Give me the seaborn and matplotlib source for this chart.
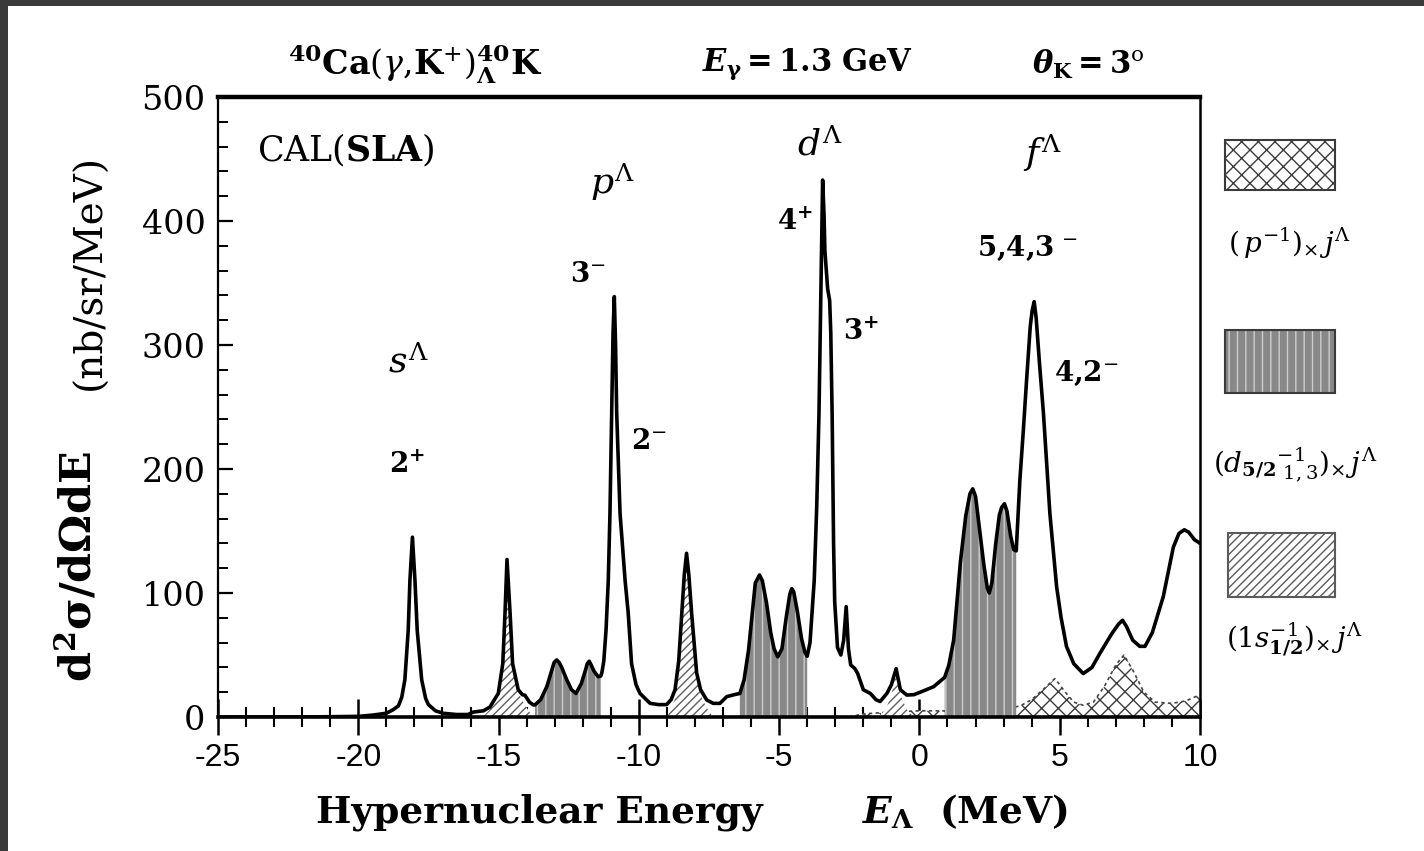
import numpy as np
import pandas as pd
import matplotlib
matplotlib.use("Agg")
import matplotlib.pyplot as plt
import seaborn as sns
from matplotlib.patches import Rectangle
from matplotlib.ticker import MultipleLocator

# ---------------- data ----------------
# total cross section  d2sigma/dOmega dE  (nb/sr/MeV)  vs  E_Lambda (MeV)
energy = [-25.0, -22.0, -20.0, -19.5, -19.0, -18.75, -18.57, -18.45, -18.34, -18.22,
          -18.16, -18.07, -17.98, -17.90, -17.74, -17.60, -17.50, -17.25, -16.97, -16.50,
          -16.09, -15.90, -15.54, -15.31, -15.01, -14.85, -14.77, -14.70, -14.59, -14.50,
          -14.30, -14.15, -14.06, -13.90, -13.76, -13.70, -13.50, -13.28, -13.10, -13.02,
          -12.93, -12.84, -12.75, -12.57, -12.40, -12.24, -12.05, -11.90, -11.84, -11.77,
          -11.70, -11.60, -11.45, -11.36, -11.32, -11.25, -11.17, -11.09, -11.03, -10.97,
          -10.92, -10.875, -10.83, -10.79, -10.67, -10.49, -10.38, -10.26, -10.10, -9.96,
          -9.60, -9.30, -9.01, -8.85, -8.71, -8.58, -8.47, -8.38, -8.30, -8.22,
          -8.12, -7.94, -7.80, -7.58, -7.35, -7.11, -6.87, -6.60, -6.40, -6.25,
          -6.09, -5.95, -5.85, -5.70, -5.60, -5.45, -5.30, -5.18, -5.05, -4.90,
          -4.75, -4.62, -4.55, -4.48, -4.35, -4.20, -4.08, -4.00, -3.90, -3.75,
          -3.66, -3.58, -3.50, -3.45, -3.40, -3.37, -3.27, -3.20, -3.16, -3.11,
          -3.06, -3.02, -2.92, -2.80, -2.70, -2.61, -2.53, -2.45, -2.30, -2.20,
          -2.00, -1.75, -1.55, -1.40, -1.16, -1.00, -0.83, -0.68, -0.45, -0.20,
          0.03, 0.51, 0.90, 1.05, 1.22, 1.46, 1.65, 1.80, 1.90, 2.00,
          2.15, 2.30, 2.42, 2.49, 2.58, 2.72, 2.85, 2.93, 3.03, 3.12,
          3.25, 3.36, 3.45, 3.58, 3.70, 3.82, 3.95, 4.02, 4.09, 4.16,
          4.28, 4.42, 4.65, 4.89, 5.05, 5.24, 5.50, 5.84, 6.15, 6.44,
          6.85, 7.10, 7.24, 7.38, 7.60, 7.85, 8.04, 8.30, 8.69, 9.05,
          9.25, 9.44, 9.60, 9.80, 9.94, 10.0]
sigma = [0.0, 0.0, 0.5, 1.5, 3.0, 6.0, 9.0, 16.0, 30.0, 70.0,
         110.0, 145.0, 110.0, 70.0, 30.0, 15.0, 10.0, 5.0, 3.0, 2.0,
         2.0, 4.0, 5.0, 8.0, 19.0, 43.0, 84.0, 127.0, 84.0, 43.0,
         22.0, 18.0, 17.5, 12.0, 9.7, 9.8, 14.0, 24.5, 38.0, 44.0,
         46.0, 44.0, 40.0, 30.0, 22.0, 19.0, 27.0, 38.0, 43.0, 45.0,
         42.0, 37.0, 32.5, 33.0, 35.5, 45.0, 70.0, 110.0, 164.0, 245.0,
         310.0, 339.0, 300.0, 245.0, 164.0, 110.0, 84.0, 43.0, 26.0, 19.0,
         11.0, 10.0, 10.0, 14.0, 22.0, 45.0, 84.0, 115.0, 132.0, 115.0,
         84.0, 35.5, 22.0, 13.7, 11.0, 11.0, 16.4, 18.0, 19.0, 30.0,
         54.0, 85.0, 108.0, 114.5, 110.0, 92.0, 68.0, 55.0, 48.5, 55.0,
         80.0, 99.0, 103.5, 101.0, 85.0, 63.0, 52.0, 49.0, 60.0, 110.0,
         170.0, 245.0, 360.0, 433.0, 405.0, 376.0, 345.0, 336.0, 310.0, 242.0,
         140.0, 93.0, 56.0, 50.0, 62.0, 89.0, 55.0, 42.0, 39.0, 35.0,
         22.0, 19.0, 14.0, 12.5, 19.0, 26.0, 39.0, 22.0, 17.7, 18.0,
         20.0, 24.5, 32.0, 42.0, 62.0, 125.0, 162.0, 180.0, 184.0, 178.0,
         150.0, 122.0, 104.0, 100.0, 108.0, 140.0, 163.0, 169.0, 172.0, 166.0,
         146.0, 135.0, 134.0, 191.0, 230.0, 272.0, 315.0, 328.0, 335.0, 322.0,
         285.0, 245.0, 164.0, 105.0, 80.0, 57.0, 43.0, 35.0, 40.0, 51.6,
         67.0, 75.0, 78.0, 73.0, 62.0, 57.0, 57.0, 68.0, 97.0, 137.0,
         148.0, 151.0, 149.0, 143.0, 141.0, 140.0]

# (p^-1) x j^Lambda component (cross hatched)
p_hole_energy = [-2.5, -2.0, -1.0, 0.0, 1.0, 2.0, 3.0, 3.6, 4.0, 4.4, 4.83, 5.2, 5.5,
                 5.84, 6.2, 6.6, 7.0, 7.29, 7.6, 8.0, 8.4, 9.0, 9.5, 10.0]
p_hole_sigma = [0.0, 2.5, 4.0, 5.0, 5.0, 5.5, 6.0, 9.0, 14.0, 22.0, 31.0, 20.0, 12.0,
                9.5, 12.0, 25.0, 42.0, 50.0, 38.0, 20.0, 12.0, 11.0, 13.0, 18.0]

# (1s1/2^-1) x j^Lambda component (diagonal hatch), three pieces
s_hole_energy_a = [-15.55, -15.31, -15.01, -14.85, -14.77, -14.70, -14.59, -14.50, -14.30, -14.10, -13.90, -13.75]
s_hole_sigma_a = [0.0, 6.0, 17.0, 42.0, 83.0, 126.0, 83.0, 42.0, 20.0, 11.0, 4.0, 0.0]
s_hole_energy_b = [-9.0, -8.85, -8.71, -8.58, -8.47, -8.38, -8.30, -8.22, -8.12, -7.94, -7.80, -7.60, -7.35]
s_hole_sigma_b = [0.0, 6.0, 15.0, 42.0, 83.0, 114.0, 131.0, 114.0, 83.0, 34.0, 18.0, 8.0, 0.0]
s_hole_energy_c = [-1.45, -1.20, -1.00, -0.83, -0.68, -0.45, -0.20]
s_hole_sigma_c = [0.0, 6.0, 18.0, 36.0, 18.0, 6.0, 0.0]

# (d5/2^-1) x j^Lambda regions (grey, vertical lines) - energy ranges under the total curve
d_hole_start = [-13.70, -6.40, 0.90]
d_hole_end = [-11.36, -4.00, 3.45]

x_ticks = [-25, -20, -15, -10, -5, 0, 5, 10]
y_ticks = [0, 100, 200, 300, 400, 500]

# ---------------- style ----------------
sns.set_theme(style="white")
plt.rcParams["font.family"] = ["DejaVu Serif"]
plt.rcParams["mathtext.fontset"] = "dejavuserif"
plt.rcParams["axes.unicode_minus"] = False
plt.rcParams["hatch.linewidth"] = 1.0
plt.rcParams["text.color"] = "black"
plt.rcParams["xtick.color"] = "black"
plt.rcParams["ytick.color"] = "black"

W, H = 1424, 851
fig = plt.figure(figsize=(W / 100, H / 100), dpi=100, facecolor="#3a3a3a")
fig.patches.append(Rectangle((8 / W, 0), 1, 1 - 6 / H, transform=fig.transFigure,
                             facecolor="white", edgecolor="none", zorder=-10))

ax = fig.add_axes([218 / W, 1 - 717 / H, (1200 - 218) / W, (717 - 97) / H])
ax.set_facecolor("white")

E = np.array(energy)
S = np.array(sigma)

# p-hole component
ax.fill_between(p_hole_energy, 0, p_hole_sigma, facecolor="white", edgecolor="#3a3a3a",
                hatch="xx", linewidth=0, zorder=2)
ax.plot(p_hole_energy, p_hole_sigma, linestyle=(0, (2, 2)), color="#444444", lw=1.2, zorder=2)

# d-hole grey regions
for a, b in zip(d_hole_start, d_hole_end):
    m = (E >= a) & (E <= b)
    ax.fill_between(E[m], 0, S[m], facecolor="#888888", edgecolor="#cdcdcd",
                    hatch="||", linewidth=0, zorder=3)

# s-hole hatched regions
for es, ss in ((s_hole_energy_a, s_hole_sigma_a), (s_hole_energy_b, s_hole_sigma_b),
               (s_hole_energy_c, s_hole_sigma_c)):
    ax.fill_between(es, 0, ss, facecolor="white", edgecolor="#5e5e5e",
                    hatch="////", linewidth=0, zorder=3)

df = pd.DataFrame({"E": energy, "sigma": sigma})
sns.lineplot(data=df, x="E", y="sigma", sort=False, estimator=None, color="black",
             linewidth=2.6, ax=ax, zorder=5)

ax.set_xlim(-25, 10)
ax.set_ylim(0, 500)
ax.set_xlabel("")
ax.set_ylabel("")
ax.set_xticks(x_ticks)
ax.set_yticks(y_ticks)
ax.xaxis.set_minor_locator(MultipleLocator(1))
ax.yaxis.set_minor_locator(MultipleLocator(20))
ax.tick_params(axis="x", which="major", direction="inout", length=26, width=1.8,
               pad=6, labelsize=23, colors="black", bottom=True, top=False)
ax.tick_params(axis="x", which="minor", direction="inout", length=15, width=1.5,
               bottom=True, top=False)
ax.tick_params(axis="y", which="major", direction="in", length=11, width=1.6,
               pad=9, labelsize=24, left=True, right=False)
ax.tick_params(axis="y", which="minor", direction="in", length=7, width=1.4,
               left=True, right=False)
for lbl in ax.get_xticklabels():
    lbl.set_fontfamily(["Liberation Sans", "DejaVu Sans"])
for side, lw in (("bottom", 2.6), ("top", 3.2), ("left", 1.6), ("right", 1.8)):
    ax.spines[side].set_visible(True)
    ax.spines[side].set_color("black")
    ax.spines[side].set_linewidth(lw)
    ax.spines[side].set_zorder(6)

# ---------------- annotations inside the plot ----------------
ax.text(-23.6, 457, r"CAL$\mathrm{(}\mathbf{SLA}\mathrm{)}$", fontsize=25, ha="left", va="center")
shell_labels = [(-18.2, 286, r"$s^{\Lambda}$"), (-10.95, 431, r"$p^{\Lambda}$"),
                (-3.55, 461, r"$d^{\Lambda}$"), (4.37, 455, r"$f^{\Lambda}$")]
for x, y, t in shell_labels:
    ax.text(x, y, t, fontsize=26, ha="center", va="center")
spin_labels = [(-18.25, 203, r"$\mathbf{2}^{\mathbf{+}}$"), (-11.8, 357, r"$\mathbf{3}^{-}$"),
               (-9.65, 222, r"$\mathbf{2}^{-}$"), (-4.45, 399, r"$\mathbf{4}^{\mathbf{+}}$"),
               (-2.1, 310, r"$\mathbf{3}^{\mathbf{+}}$"), (3.85, 378, r"$\mathbf{5{,}4{,}3}^{\,-}$"),
               (5.95, 277, r"$\mathbf{4{,}2}^{-}$")]
for x, y, t in spin_labels:
    ax.text(x, y, t, fontsize=20, ha="center", va="center")

# ---------------- header ----------------
fig.text(415 / W, 1 - 64 / H, r"$^{\mathbf{40}}\mathbf{Ca}(\gamma{,}\mathbf{K}^{+})^{\mathbf{40}}_{\mathbf{\Lambda}}\mathbf{K}$",
         fontsize=24, ha="center", va="center")
fig.text(807 / W, 1 - 64 / H, r"$\mathbfit{E}_{\mathbf{\gamma}}\mathbf{=1.3\ GeV}$",
         fontsize=22, ha="center", va="center")
fig.text(1088 / W, 1 - 64 / H, r"$\mathbfit{\theta}_{\mathbf{K}}\mathbf{=3}^{\mathrm{o}}$",
         fontsize=22, ha="center", va="center")

# ---------------- axis titles ----------------
fig.text(539 / W, 1 - 812 / H, "Hypernuclear Energy",
         fontsize=27, fontweight="bold", ha="center", va="center")
fig.text(862 / W, 1 - 812 / H, r"$\mathbfit{E}_{\mathbf{\Lambda}}$  (MeV)",
         fontsize=27, fontweight="bold", ha="left", va="center")
fig.text(78 / W, 1 - 567 / H, r"$\mathbf{d^{2}\sigma/d\Omega dE}$", fontsize=31,
         rotation=90, ha="center", va="center")
fig.text(90 / W, 1 - 272 / H, "(nb/sr/MeV)", fontsize=28, rotation=90, ha="center", va="center")

# ---------------- legend (right side) ----------------
def box(x0, y0, x1, y1, **kw):
    r = Rectangle((x0 / W, 1 - y1 / H), (x1 - x0) / W, (y1 - y0) / H,
                  transform=fig.transFigure, **kw)
    fig.patches.append(r)

box(1225, 140, 1335, 190, facecolor="white", edgecolor="#3a3a3a", hatch="xx", linewidth=1.5)
box(1225, 330, 1335, 393, facecolor="#888888", edgecolor="#cdcdcd", hatch="||", linewidth=0)
box(1225, 330, 1335, 393, facecolor="none", edgecolor="#3a3a3a", linewidth=1.5)
box(1228, 533, 1335, 597, facecolor="white", edgecolor="#5a5a5a", hatch="////", linewidth=1.5)

fig.text(1290 / W, 1 - 243 / H, r"$(\,p^{-1})_{\times}\,j^{\Lambda}$", fontsize=20, ha="center", va="center")
fig.text(1295 / W, 1 - 465 / H, r"$(d_{\mathbf{5/2}}{}^{-1}_{\ 1,3})_{\times}\,j^{\Lambda}$", fontsize=20,
         ha="center", va="center")
fig.text(1295 / W, 1 - 640 / H, r"$(1s_{\mathbf{1/2}}^{-1})_{\times}\,j^{\Lambda}$", fontsize=20,
         ha="center", va="center")

fig.savefig("out.png", dpi=100, facecolor=fig.get_facecolor())
